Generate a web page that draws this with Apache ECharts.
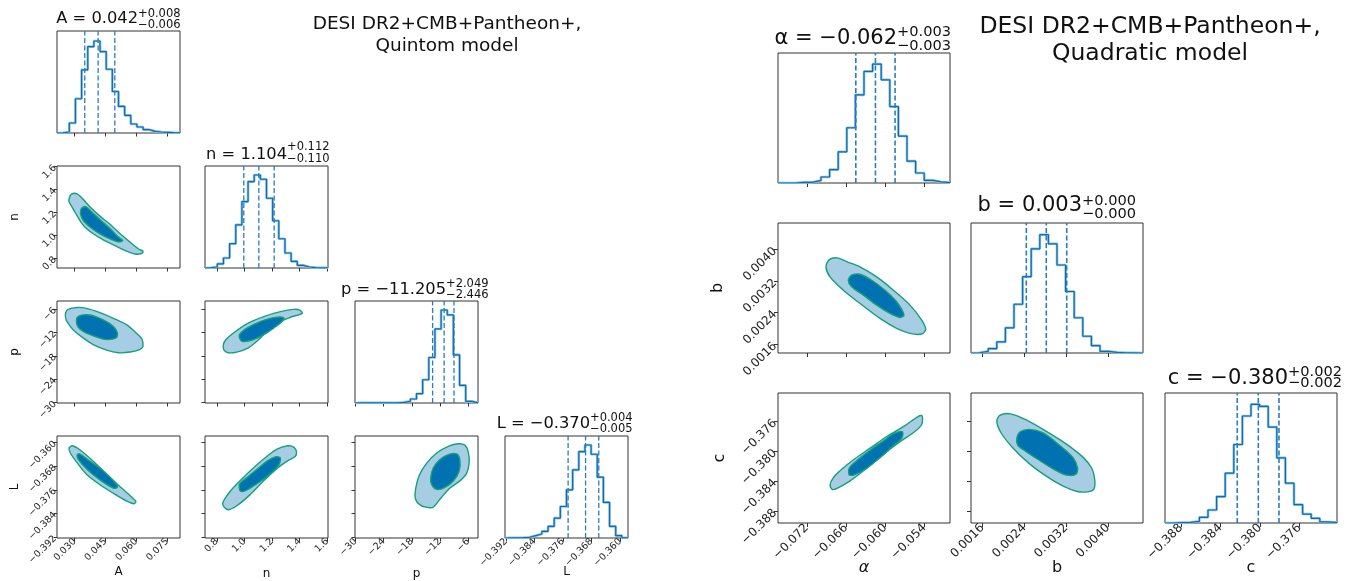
<!DOCTYPE html>
<html>
<head>
<meta charset="utf-8">
<script src="https://cdn.jsdelivr.net/npm/echarts@6/dist/echarts.min.js"></script>
<style>
  html, body { margin: 0; padding: 0; background: #fff; }
  #main { width: 1353px; height: 581px; }
</style>
</head>
<body>
<div id="main"></div>
<script>
// ---------- data ----------
// axis ranges
const rangeA = [0.0214, 0.0812];
const rangeN = [0.714, 1.605];
const rangeP = [-30.1, -3.95];
const rangeL = [-0.3923, -0.3578];
const rangeAlpha = [-0.0764, -0.0501];
const rangeB = [0.00138, 0.00467];
const rangeC = [-0.3896, -0.3722];

// tick values and labels
const ticksA = [0.030, 0.045, 0.060, 0.075];
const labelsA = ['0.030', '0.045', '0.060', '0.075'];
const ticksN = [0.8, 1.0, 1.2, 1.4, 1.6];
const labelsN = ['0.8', '1.0', '1.2', '1.4', '1.6'];
const ticksP = [-30, -24, -18, -12, -6];
const labelsP = ['\u221230', '\u221224', '\u221218', '\u221212', '\u22126'];
const ticksL = [-0.392, -0.384, -0.376, -0.368, -0.360];
const labelsL = ['\u22120.392', '\u22120.384', '\u22120.376', '\u22120.368', '\u22120.360'];
const ticksAlpha = [-0.072, -0.066, -0.060, -0.054];
const labelsAlpha = ['\u22120.072', '\u22120.066', '\u22120.060', '\u22120.054'];
const ticksB = [0.0016, 0.0024, 0.0032, 0.0040];
const labelsB = ['0.0016', '0.0024', '0.0032', '0.0040'];
const ticksC = [-0.388, -0.384, -0.380, -0.376];
const labelsC = ['\u22120.388', '\u22120.384', '\u22120.380', '\u22120.376'];

// 20-bin histograms (height as share of the panel)
const histA = [0.001, 0.01, 0.098, 0.336, 0.619, 0.847, 0.902, 0.798, 0.625, 0.407, 0.261, 0.173, 0.088, 0.059, 0.033, 0.016, 0.01, 0.007, 0.003, 0.001];
const histN = [0.003, 0.01, 0.04, 0.098, 0.238, 0.423, 0.651, 0.847, 0.912, 0.870, 0.684, 0.463, 0.287, 0.147, 0.065, 0.026, 0.01, 0.004, 0.002, 0.001];
const histP = [0.001, 0.001, 0.001, 0.001, 0.001, 0.001, 0.002, 0.007, 0.016, 0.039, 0.091, 0.228, 0.446, 0.726, 0.912, 0.863, 0.472, 0.173, 0.016, 0.002];
const histL = [0.001, 0.002, 0.004, 0.007, 0.023, 0.039, 0.065, 0.114, 0.195, 0.309, 0.472, 0.668, 0.847, 0.912, 0.821, 0.596, 0.349, 0.114, 0.023, 0.001];
const histAlpha = [0.0, 0.0, 0.005, 0.005, 0.02, 0.046, 0.103, 0.24, 0.425, 0.678, 0.858, 0.915, 0.794, 0.588, 0.361, 0.168, 0.077, 0.02, 0.008, 0.003];
const histB = [0.002, 0.013, 0.034, 0.085, 0.194, 0.375, 0.587, 0.801, 0.91, 0.84, 0.677, 0.473, 0.271, 0.129, 0.057, 0.013, 0.005, 0.002, 0.001, 0.0];
const histC = [0.0, 0.003, 0.005, 0.013, 0.044, 0.100, 0.203, 0.383, 0.604, 0.823, 0.913, 0.897, 0.738, 0.501, 0.306, 0.141, 0.069, 0.036, 0.008, 0.003];

// 16 / 50 / 84 % lines
const qA = [0.0349, 0.0414, 0.0495];
const qN = [0.995, 1.104, 1.215];
const qP = [-13.6, -11.15, -9.05];
const qL = [-0.3746, -0.3697, -0.3660];
const qAlpha = [-0.0645, -0.0615, -0.0585];
const qB = [0.002438, 0.002820, 0.003211];
const qC = [-0.38229, -0.38016, -0.37807];

// credible contours [x, y]
const outerAN = [[0.02725,1.318],[0.02839,1.359],[0.03117,1.362],[0.03411,1.315],[0.03738,1.250],[0.04228,1.167],[0.04718,1.096],[0.05208,1.013],[0.05698,0.939],[0.06107,0.880],[0.0632,0.860],[0.0627,0.842],[0.05944,0.836],[0.05453,0.866],[0.04963,0.910],[0.04391,0.960],[0.03901,1.013],[0.03493,1.072],[0.03247,1.131],[0.03051,1.190],[0.02839,1.256],[0.02725,1.294]];
const innerAN = [[0.03329,1.235],[0.03542,1.250],[0.0382,1.205],[0.04228,1.137],[0.04718,1.058],[0.05127,0.984],[0.05339,0.954],[0.05127,0.942],[0.04718,0.969],[0.04228,1.013],[0.03738,1.072],[0.03411,1.131],[0.0328,1.190]];

const outerAP = [[0.02561,-6.95],[0.02676,-6.10],[0.03117,-5.60],[0.03574,-5.85],[0.04228,-6.95],[0.04881,-8.38],[0.05535,-10.06],[0.05993,-12.16],[0.0627,-13.68],[0.0632,-15.53],[0.06189,-16.37],[0.05699,-17.04],[0.05127,-17.21],[0.04555,-16.54],[0.03901,-15.11],[0.03411,-13.42],[0.02921,-11.32],[0.02676,-9.64],[0.02561,-8.38]];
const innerAP = [[0.03084,-8.80],[0.03215,-7.79],[0.03738,-7.53],[0.04391,-8.80],[0.04881,-10.48],[0.05078,-12.16],[0.05012,-13.42],[0.04555,-13.84],[0.04065,-13.17],[0.03493,-11.99],[0.03166,-10.65]];

const outerNP = [[0.852,-16.54],[0.847,-15.11],[0.866,-13.84],[0.920,-12.16],[1.017,-9.81],[1.139,-7.95],[1.260,-6.69],[1.357,-6.10],[1.401,-6.27],[1.418,-7.11],[1.333,-8.12],[1.236,-9.64],[1.163,-11.74],[1.090,-14.27],[1.029,-15.95],[0.944,-17.04],[0.883,-17.21]];
const innerNP = [[0.973,-14.01],[0.964,-12.58],[1.017,-10.90],[1.114,-9.22],[1.211,-8.21],[1.284,-8.21],[1.272,-9.22],[1.211,-10.90],[1.139,-12.58],[1.066,-13.84],[0.998,-14.35]];

const outerAL = [[0.02725,-0.36188],[0.02888,-0.36111],[0.03247,-0.36244],[0.03901,-0.36632],[0.04555,-0.37075],[0.05208,-0.37497],[0.0578,-0.37852],[0.05976,-0.37996],[0.05862,-0.38073],[0.05535,-0.37985],[0.04881,-0.37719],[0.04228,-0.3743],[0.03574,-0.37075],[0.03084,-0.36654],[0.0279,-0.36355]];
const innerAL = [[0.03117,-0.36432],[0.03215,-0.36377],[0.03738,-0.36632],[0.04391,-0.36964],[0.04963,-0.37353],[0.05078,-0.37519],[0.04881,-0.37541],[0.04228,-0.37264],[0.03607,-0.36909],[0.03182,-0.36577]];

const outerNL = [[0.852,-0.38184],[0.842,-0.38051],[0.862,-0.37873],[0.900,-0.3763],[0.968,-0.37297],[1.066,-0.36854],[1.163,-0.36465],[1.236,-0.36221],[1.314,-0.36111],[1.357,-0.36155],[1.377,-0.36321],[1.367,-0.36477],[1.309,-0.36632],[1.236,-0.36876],[1.139,-0.37297],[1.041,-0.37763],[0.944,-0.3814],[0.883,-0.38273]];
const innerNL = [[0.968,-0.3763],[0.964,-0.37408],[1.017,-0.37186],[1.090,-0.36909],[1.163,-0.36632],[1.224,-0.36488],[1.260,-0.36521],[1.248,-0.36765],[1.187,-0.37053],[1.114,-0.37319],[1.041,-0.37541],[0.993,-0.37652]];

const outerPL = [[-14.15,-0.38207],[-16.12,-0.38129],[-17.25,-0.37907],[-17.18,-0.37541],[-16.40,-0.37098],[-14.85,-0.36698],[-12.74,-0.36355],[-10.27,-0.36133],[-8.16,-0.36044],[-6.75,-0.36088],[-6.04,-0.36299],[-5.83,-0.36687],[-6.40,-0.37053],[-7.81,-0.37297],[-9.92,-0.37541],[-11.68,-0.37852],[-13.30,-0.38162]];
const innerPL = [[-13.79,-0.3743],[-14.00,-0.37186],[-13.44,-0.36854],[-12.03,-0.36576],[-10.27,-0.3641],[-8.51,-0.36388],[-7.81,-0.36576],[-7.95,-0.36965],[-9.07,-0.37275],[-10.98,-0.37519],[-12.74,-0.37585]];

const outerAlphaB = [[-0.06906,0.003559],[-0.06855,0.003744],[-0.06733,0.003786],[-0.0658,0.003685],[-0.06386,0.003559],[-0.06131,0.003306],[-0.05876,0.00297],[-0.05622,0.002592],[-0.05443,0.002213],[-0.05382,0.001978],[-0.05443,0.00186],[-0.05622,0.001877],[-0.05826,0.002003],[-0.0608,0.002255],[-0.06386,0.002634],[-0.06641,0.00297],[-0.06845,0.003306]];
const innerAlphaB = [[-0.06565,0.003222],[-0.06514,0.003348],[-0.06386,0.003374],[-0.06208,0.003222],[-0.06004,0.00297],[-0.05826,0.002676],[-0.05713,0.002339],[-0.05774,0.00228],[-0.05927,0.002381],[-0.06131,0.002592],[-0.06335,0.002844],[-0.06514,0.003054]];

const outerAlphaC = [[-0.06806,-0.38512],[-0.06844,-0.3845],[-0.06793,-0.38352],[-0.06666,-0.38241],[-0.06475,-0.38107],[-0.0622,-0.37952],[-0.05965,-0.37796],[-0.0571,-0.37663],[-0.05488,-0.3753],[-0.05437,-0.37525],[-0.05443,-0.37641],[-0.05551,-0.37739],[-0.05774,-0.37872],[-0.06029,-0.38041],[-0.06284,-0.38227],[-0.06538,-0.38396],[-0.06729,-0.38494]];
const innerAlphaC = [[-0.06551,-0.38316],[-0.06551,-0.38227],[-0.06411,-0.38107],[-0.0622,-0.37979],[-0.06029,-0.37863],[-0.0587,-0.37765],[-0.05736,-0.37739],[-0.05749,-0.37827],[-0.05889,-0.37934],[-0.0608,-0.38085],[-0.06284,-0.38227],[-0.06475,-0.38316]];

const outerBC = [[0.001874,-0.37596],[0.001938,-0.37516],[0.002137,-0.37499],[0.002416,-0.37574],[0.002814,-0.3773],[0.003212,-0.37907],[0.003531,-0.38085],[0.00369,-0.38227],[0.003746,-0.38374],[0.00373,-0.38507],[0.003611,-0.38543],[0.003411,-0.38538],[0.003133,-0.38463],[0.002814,-0.3833],[0.002495,-0.38165],[0.002177,-0.37952],[0.001954,-0.37752]];
const innerBC = [[0.002256,-0.37827],[0.00232,-0.37739],[0.002495,-0.37707],[0.00275,-0.37752],[0.003053,-0.37907],[0.003332,-0.38085],[0.003419,-0.38227],[0.003387,-0.38307],[0.003212,-0.3832],[0.002973,-0.38245],[0.002655,-0.38107],[0.002416,-0.37996],[0.002272,-0.37916]];

// ---------- look ----------
const FONT = 'DejaVu Sans';
const HIST_DARK = '#0b6db0';
const HIST_LIGHT = '#8ec0e2';
const DASH = '#2a7db9';
const FILL_OUT = '#a7cde4';
const FILL_IN = '#0072b2';
const EDGE = '#14a07a';
const FRAME = '#333333';

// panel boxes
const leftCols = [57, 205, 355, 505], leftRows = [31, 166, 301, 436], leftW = 123, leftH = 102;
const rightCols = [778, 971, 1165], rightRows = [53, 223, 393], rightW = 172, rightH = 130;

const grids = [], xAxes = [], yAxes = [], series = [];

function fmt(ticks, labels) {
  return v => {
    const i = ticks.findIndex(t => Math.abs(t - v) < 1e-9);
    return i < 0 ? '' : labels[i];
  };
}

function axisCfg(gi, range, ticks, labels, o) {
  const hasTicks = !!ticks;
  return {
    type: 'value', gridIndex: gi, min: range[0], max: range[1],
    axisLine: { show: false },
    splitLine: { show: false },
    axisTick: hasTicks ? { show: true, customValues: ticks, length: o.tickLen, lineStyle: { color: FRAME, width: 1 } } : { show: false },
    axisLabel: (hasTicks && o.showLabels) ? {
      show: true, customValues: ticks, rotate: 45, fontFamily: FONT, fontSize: o.fontSize,
      color: '#222', margin: o.margin, formatter: fmt(ticks, labels)
    } : { show: false },
    name: o.name || '', nameLocation: 'middle', nameGap: o.nameGap || 0, nameMoveOverlap: false,
    nameTextStyle: { fontFamily: FONT, fontSize: o.nameSize, color: '#111', fontStyle: o.italic ? 'italic' : 'normal' }
  };
}

function addGrid(left, top, w, h) {
  grids.push({ left, top, width: w, height: h, show: true, borderColor: FRAME, borderWidth: 1, backgroundColor: 'transparent' });
  return grids.length - 1;
}

function stepPoints(range, heights) {
  const w = (range[1] - range[0]) / heights.length;
  const pts = [[range[0], 0]];
  heights.forEach((h, i) => { pts.push([range[0] + i * w, h], [range[0] + (i + 1) * w, h]); });
  pts.push([range[1], 0]);
  return pts;
}

function histPanel(left, top, w, h, range, ticks, labels, heights, q, o) {
  const gi = addGrid(left, top, w, h);
  xAxes.push(axisCfg(gi, range, ticks, labels, o));
  yAxes.push({ type: 'value', gridIndex: gi, min: 0, max: 1, axisLine: { show: false }, axisTick: { show: false }, axisLabel: { show: false }, splitLine: { show: false } });
  const pts = stepPoints(range, heights);
  series.push({ type: 'line', xAxisIndex: gi, yAxisIndex: gi, data: pts, showSymbol: false, silent: true,
    lineStyle: { color: HIST_LIGHT, width: 2.6 }, z: 2 });
  series.push({ type: 'line', xAxisIndex: gi, yAxisIndex: gi, data: pts, showSymbol: false, silent: true,
    lineStyle: { color: HIST_DARK, width: 1.2 }, z: 3 });
  // quantile lines
  q.forEach(v => {
    series.push({ type: 'line', xAxisIndex: gi, yAxisIndex: gi, data: [[v, 0], [v, 1]], showSymbol: false, silent: true,
      lineStyle: { color: DASH, width: o.dashW, type: [5, 2.5] }, z: 4 });
  });
}

function contourPanel(left, top, w, h, xr, xt, xl, xo, yr, yt, yl, yo, outer, inner) {
  const gi = addGrid(left, top, w, h);
  xAxes.push(axisCfg(gi, xr, xt, xl, xo));
  yAxes.push(axisCfg(gi, yr, yt, yl, yo));
  series.push({
    type: 'custom', xAxisIndex: gi, yAxisIndex: gi, silent: true,
    data: [outer[0]],
    renderItem: (params, api) => {
      const px = pts => pts.map(p => api.coord(p));
      return { type: 'group', children: [
        { type: 'polygon', shape: { points: px(outer), smooth: 0.3 }, style: { fill: FILL_OUT, stroke: EDGE, lineWidth: 1.4 } },
        { type: 'polygon', shape: { points: px(inner), smooth: 0.3 }, style: { fill: FILL_IN, stroke: EDGE, lineWidth: 1.4 } }
      ] };
    }
  });
}

// ---------- left corner (Quintom) ----------
const LS = { tickLen: 3.5, fontSize: 9.5, margin: 2, nameSize: 12, dashW: 1.3 };
const lx = (extra) => Object.assign({}, LS, extra);
const [c0, c1, c2, c3] = leftCols, [r0, r1, r2, r3] = leftRows;

histPanel(c0, r0, leftW, leftH, rangeA, ticksA, labelsA, histA, qA, lx({ showLabels: false }));
contourPanel(c0, r1, leftW, leftH, rangeA, ticksA, labelsA, lx({ showLabels: false }),
  rangeN, ticksN, labelsN, lx({ showLabels: true, name: 'n', nameGap: 36 }), outerAN, innerAN);
histPanel(c1, r1, leftW, leftH, rangeN, ticksN, labelsN, histN, qN, lx({ showLabels: false }));
contourPanel(c0, r2, leftW, leftH, rangeA, ticksA, labelsA, lx({ showLabels: false }),
  rangeP, ticksP, labelsP, lx({ showLabels: true, name: 'p', nameGap: 36 }), outerAP, innerAP);
contourPanel(c1, r2, leftW, leftH, rangeN, ticksN, labelsN, lx({ showLabels: false }),
  rangeP, ticksP, labelsP, lx({ showLabels: false }), outerNP, innerNP);
histPanel(c2, r2, leftW, leftH, rangeP, ticksP, labelsP, histP, qP, lx({ showLabels: false }));
contourPanel(c0, r3, leftW, leftH, rangeA, ticksA, labelsA, lx({ showLabels: true, name: 'A', nameGap: 28 }),
  rangeL, ticksL, labelsL, lx({ showLabels: true, name: 'L', nameGap: 36 }), outerAL, innerAL);
contourPanel(c1, r3, leftW, leftH, rangeN, ticksN, labelsN, lx({ showLabels: true, name: 'n', nameGap: 30 }),
  rangeL, ticksL, labelsL, lx({ showLabels: false }), outerNL, innerNL);
contourPanel(c2, r3, leftW, leftH, rangeP, ticksP, labelsP, lx({ showLabels: true, name: 'p', nameGap: 30 }),
  rangeL, ticksL, labelsL, lx({ showLabels: false }), outerPL, innerPL);
histPanel(c3, r3, leftW, leftH, rangeL, ticksL, labelsL, histL, qL, lx({ showLabels: true, name: 'L', nameGap: 28 }));

// ---------- right corner (Quadratic) ----------
const RS = { tickLen: 4, fontSize: 12, margin: 3, nameSize: 16, dashW: 1.6 };
const rx = (extra) => Object.assign({}, RS, extra);
const [d0, d1, d2] = rightCols, [s0, s1, s2] = rightRows;

histPanel(d0, s0, rightW, rightH, rangeAlpha, ticksAlpha, labelsAlpha, histAlpha, qAlpha, rx({ showLabels: false }));
contourPanel(d0, s1, rightW, rightH, rangeAlpha, ticksAlpha, labelsAlpha, rx({ showLabels: false }),
  rangeB, ticksB, labelsB, rx({ showLabels: true, name: 'b', nameGap: 52 }), outerAlphaB, innerAlphaB);
histPanel(d1, s1, rightW, rightH, rangeB, ticksB, labelsB, histB, qB, rx({ showLabels: false }));
contourPanel(d0, s2, rightW, rightH, rangeAlpha, ticksAlpha, labelsAlpha, rx({ showLabels: true, name: '\u03b1', italic: true, nameGap: 37 }),
  rangeC, ticksC, labelsC, rx({ showLabels: true, name: 'c', nameGap: 50 }), outerAlphaC, innerAlphaC);
contourPanel(d1, s2, rightW, rightH, rangeB, ticksB, labelsB, rx({ showLabels: true, name: 'b', nameGap: 37 }),
  rangeC, ticksC, labelsC, rx({ showLabels: false }), outerBC, innerBC);
histPanel(d2, s2, rightW, rightH, rangeC, ticksC, labelsC, histC, qC, rx({ showLabels: true, name: 'c', nameGap: 37 }));

// ---------- titles ----------
function valueTitle(anchorX, mainY, supY, subY, main, sup, sub, size, small) {
  const base = { fontFamily: FONT, fill: '#111', textVerticalAlign: 'middle' };
  return [
    { type: 'text', silent: true, style: Object.assign({ text: main, x: anchorX, y: mainY, textAlign: 'right', fontSize: size }, base) },
    { type: 'text', silent: true, style: Object.assign({ text: sup, x: anchorX, y: supY, textAlign: 'left', fontSize: small }, base) },
    { type: 'text', silent: true, style: Object.assign({ text: sub, x: anchorX, y: subY, textAlign: 'left', fontSize: small }, base) }
  ];
}

const graphics = [].concat(
  valueTitle(138, 19, 14, 25, 'A = 0.042', '+0.008', '\u22120.006', 16.3, 11.5),
  valueTitle(287, 154.5, 147.5, 159.5, 'n = 1.104', '+0.112', '\u22120.110', 16.3, 11.5),
  valueTitle(446, 290, 284, 295, 'p = \u221211.205', '+2.049', '\u22122.446', 16.3, 11.5),
  valueTitle(590, 424, 418.5, 429.5, 'L = \u22120.370', '+0.004', '\u22120.005', 16.3, 11.5),
  valueTitle(897, 38.5, 32, 46, '\u03b1 = \u22120.062', '+0.003', '\u22120.003', 21, 14.6),
  valueTitle(1082, 206, 201.5, 214.5, 'b = 0.003', '+0.000', '\u22120.000', 21, 14.6),
  valueTitle(1288, 378.5, 372, 383.5, 'c = \u22120.380', '+0.002', '\u22120.002', 21, 14.6),
  [
    { type: 'text', silent: true, style: { text: 'DESI DR2+CMB+Pantheon+,\nQuintom model', x: 447, y: 13, textAlign: 'center',
      fontFamily: FONT, fontSize: 18.5, lineHeight: 22, fill: '#111' } },
    { type: 'text', silent: true, style: { text: 'DESI DR2+CMB+Pantheon+,\nQuadratic model', x: 1150, y: 13, textAlign: 'center',
      fontFamily: FONT, fontSize: 23.5, lineHeight: 27, fill: '#111' } }
  ]
);

const chart = echarts.init(document.getElementById('main'));
chart.setOption({
  animation: false,
  backgroundColor: '#ffffff',
  grid: grids,
  xAxis: xAxes,
  yAxis: yAxes,
  series: series,
  graphic: graphics
});
</script>
</body>
</html>
